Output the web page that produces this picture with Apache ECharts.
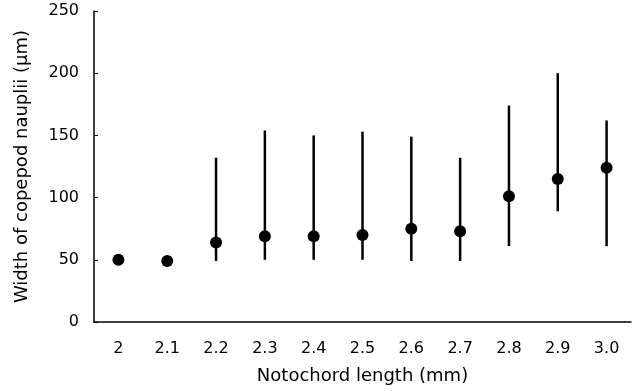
<!DOCTYPE html>
<html>
<head>
<meta charset="utf-8">
<script src="https://cdn.jsdelivr.net/npm/echarts@6/dist/echarts.min.js"></script>
<style>html,body{margin:0;padding:0;background:#fff;}#c{width:635px;height:391px;}</style>
</head>
<body>
<div id="c"></div>
<script>
var categories = ['2', '2.1', '2.2', '2.3', '2.4', '2.5', '2.6', '2.7', '2.8', '2.9', '3.0'];
var means = [50, 49, 64, 69, 69, 70, 75, 73, 101, 115, 124];
var lows  = [null, null, 49, 50, 50, 50, 49, 49, 61, 89, 61];
var highs = [null, null, 132, 154, 150, 153, 149, 132, 174, 200, 162];
var yTicks = [0, 50, 100, 150, 200, 250];

var font = 'DejaVu Sans, Arial, sans-serif';
var chart = echarts.init(document.getElementById('c'));
var errData = categories.map(function (c, i) { return [i, lows[i], highs[i]]; })
  .filter(function (d) { return d[1] !== null; });

chart.setOption({
  animation: false,
  grid: { left: 94, right: 4, top: 11, bottom: 69 },
  xAxis: {
    type: 'category',
    data: categories,
    name: 'Notochord length (mm)',
    nameLocation: 'middle',
    nameGap: 45,
    nameTextStyle: { fontFamily: font, fontSize: 18, color: '#000' },
    axisLine: { lineStyle: { color: '#000', width: 1.5 } },
    axisTick: { inside: true, length: 4, lineStyle: { color: '#000' } },
    axisLabel: { fontFamily: font, fontSize: 16, color: '#000', margin: 19 },
    splitLine: { show: false }
  },
  yAxis: {
    type: 'value',
    min: yTicks[0],
    max: yTicks[yTicks.length - 1],
    interval: 50,
    name: 'Width of copepod nauplii (\u03bcm)',
    nameLocation: 'middle',
    nameGap: 63,
    nameTextStyle: { fontFamily: font, fontSize: 18, color: '#000' },
    axisLine: { show: true, lineStyle: { color: '#000', width: 1.5 } },
    axisTick: { show: true, inside: true, length: 4, lineStyle: { color: '#000' } },
    axisLabel: { fontFamily: font, fontSize: 16, color: '#000', margin: 15 },
    splitLine: { show: false }
  },
  series: [
    {
      type: 'custom',
      data: errData,
      renderItem: function (params, api) {
        var x = api.value(0);
        var p1 = api.coord([x, api.value(1)]);
        var p2 = api.coord([x, api.value(2)]);
        return {
          type: 'line',
          shape: { x1: p1[0], y1: p1[1], x2: p2[0], y2: p2[1] },
          style: { stroke: '#000', lineWidth: 2.5 }
        };
      },
      z: 1
    },
    {
      type: 'scatter',
      data: means,
      symbol: 'circle',
      symbolSize: 12,
      itemStyle: { color: '#000', opacity: 1 },
      z: 2
    }
  ]
});
</script>
</body>
</html>
